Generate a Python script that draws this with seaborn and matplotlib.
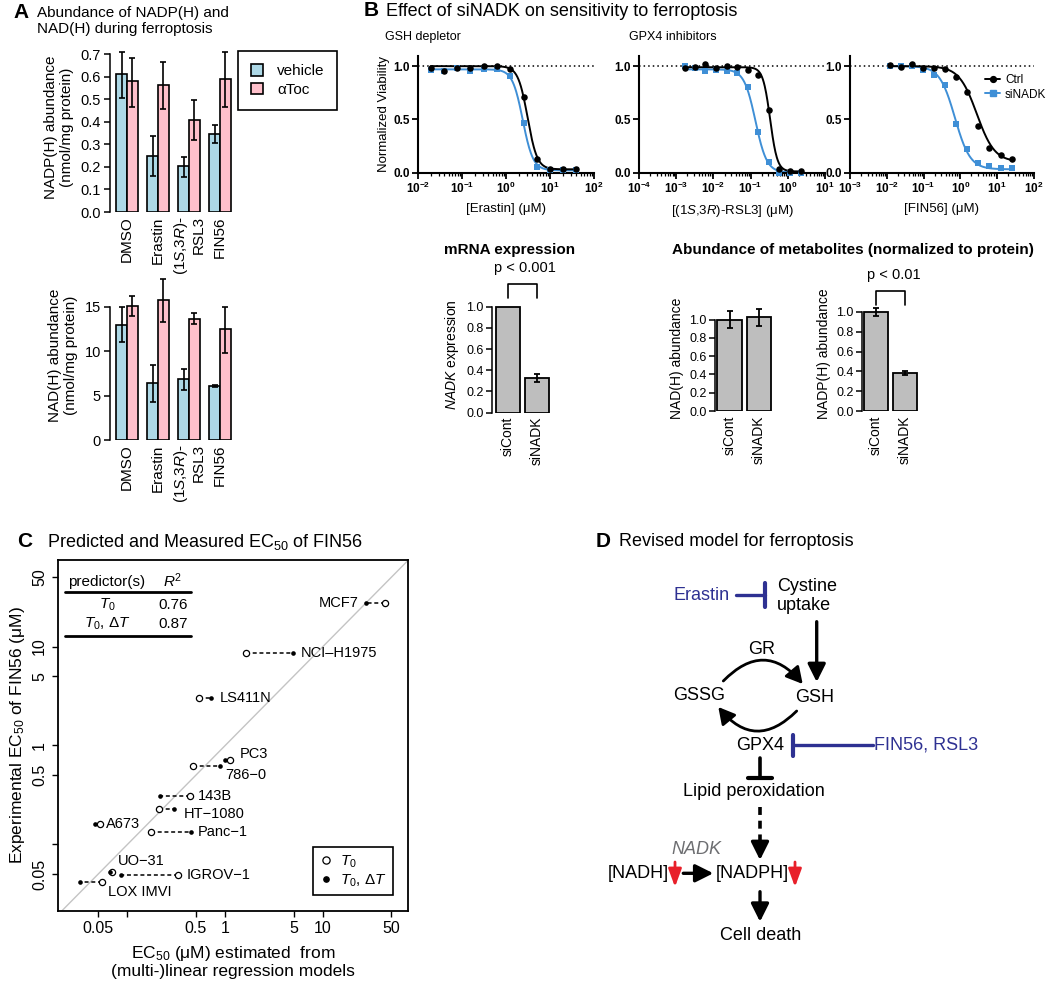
import numpy as np
import pandas as pd
import matplotlib
matplotlib.use("Agg")
import matplotlib.pyplot as plt
import seaborn as sns
from matplotlib.lines import Line2D
from matplotlib.patches import Patch
from matplotlib.ticker import FixedLocator, FuncFormatter, LogLocator, NullFormatter, NullLocator

# ---------------------------------------------------------------- data
# Panel A
treatments = ["DMSO", "Erastin", "RSL3", "FIN56"]
treatment_labels = ["DMSO", "Erastin", "($\\mathit{1S}$,$\\mathit{3R}$)-\nRSL3", "FIN56"]
conditions = ["vehicle", "αToc"]
nadp_vehicle = [0.612, 0.250, 0.204, 0.346]
nadp_vehicle_lo = [0.508, 0.160, 0.155, 0.305]
nadp_vehicle_hi = [0.710, 0.336, 0.245, 0.385]
nadp_atoc = [0.580, 0.564, 0.407, 0.589]
nadp_atoc_lo = [0.465, 0.459, 0.320, 0.465]
nadp_atoc_hi = [0.682, 0.667, 0.496, 0.709]
nad_vehicle = [13.0, 6.4, 6.9, 6.1]
nad_vehicle_lo = [11.1, 4.3, 5.6, 6.0]
nad_vehicle_hi = [15.0, 8.5, 8.0, 6.2]
nad_atoc = [15.1, 15.8, 13.7, 12.5]
nad_atoc_lo = [14.0, 13.3, 13.1, 9.8]
nad_atoc_hi = [16.2, 18.2, 14.35, 15.0]

# Panel B dose-response (normalized viability)
erastin_conc = [0.0195, 0.039, 0.078, 0.156, 0.3125, 0.625, 1.25, 2.5, 5, 10, 20, 40]
erastin_ctrl = [0.98, 0.95, 0.98, 0.98, 1.00, 1.00, 0.97, 0.71, 0.13, 0.03, 0.03, 0.03]
erastin_sinadk = [0.96, 0.95, 0.98, 0.95, 0.97, 0.97, 0.91, 0.47, 0.05, 0.02, 0.02, 0.02]
rsl3_conc = [0.0017, 0.0032, 0.0061, 0.0118, 0.0226, 0.043, 0.083, 0.16, 0.31, 0.59, 1.13, 2.2]
rsl3_ctrl = [0.98, 0.99, 1.02, 0.98, 1.00, 0.99, 0.96, 0.92, 0.59, 0.03, 0.01, 0.01]
rsl3_sinadk = [1.00, 0.98, 0.95, 0.96, 0.95, 0.94, 0.80, 0.38, 0.10, 0.00, 0.00, 0.00]
fin56_conc = [0.012, 0.024, 0.048, 0.096, 0.192, 0.384, 0.768, 1.536, 3.07, 6.14, 12.3, 24.6]
fin56_ctrl = [1.01, 0.99, 1.02, 0.98, 0.98, 0.97, 0.90, 0.76, 0.44, 0.23, 0.16, 0.13]
fin56_sinadk = [1.00, 1.00, 1.00, 0.96, 0.92, 0.82, 0.46, 0.22, 0.09, 0.06, 0.04, 0.04]
# fitted 4-parameter logistic: top, bottom, EC50, Hill slope
erastin_fit_ctrl = (1.00, 0.03, 3.1, 4.0)
erastin_fit_sinadk = (0.97, 0.02, 2.4, 3.7)
rsl3_fit_ctrl = (0.99, 0.01, 0.335, 4.5)
rsl3_fit_sinadk = (0.97, 0.00, 0.135, 2.85)
fin56_fit_ctrl = (1.00, 0.10, 2.8, 1.8)
fin56_fit_sinadk = (1.00, 0.03, 0.71, 2.1)

# Panel B bars
sirna = ["siCont", "siNADK"]
nadk_mrna = [1.0, 0.325]
nadk_mrna_err = [np.nan, 0.04]
nadh_abund = [1.0, 1.025]
nadh_err = [0.09, 0.095]
nadph_abund = [1.0, 0.385]
nadph_err = [0.04, 0.022]

# Panel C
cell_lines = ["MCF7", "NCI\u2013H1975", "LS411N", "PC3", "786\u22120", "143B", "HT\u22121080",
              "A673", "Panc\u22121", "UO\u221231", "IGROV\u22121", "LOX IMVI"]
ec50_exp = [27.3, 8.5, 3.0, 0.714, 0.625, 0.309, 0.227, 0.161, 0.133, 0.0524, 0.0492, 0.042]
pred_t0 = [43.0, 1.64, 0.546, 1.12, 0.473, 0.436, 0.21, 0.052, 0.176, 0.070, 0.33, 0.0555]
pred_t0_dt = [27.5, 4.9, 0.71, 0.99, 0.88, 0.218, 0.30, 0.047, 0.448, 0.066, 0.086, 0.033]
r2_rows = [("$\\mathit{T_0}$", "0.76"), ("$\\mathit{T_0}$, $\\mathit{\\Delta T}$", "0.87")]

# ---------------------------------------------------------------- style
sns.set_theme(style="ticks", context="paper")
plt.rcParams["font.family"] = ["Liberation Sans", "DejaVu Sans"]
plt.rcParams.update({
    "mathtext.fontset": "custom",
    "mathtext.rm": "Liberation Sans",
    "mathtext.it": "Liberation Sans:italic",
    "mathtext.bf": "Liberation Sans:bold",
    "mathtext.sf": "Liberation Sans",
    "axes.edgecolor": "black", "text.color": "black", "axes.labelcolor": "black",
    "xtick.color": "black", "ytick.color": "black",
    "axes.facecolor": "none",
})

vehicle_color = "#ADD8E6"
atoc_color = "#FFC0CB"
blue = "#3f8fd6"
gray_bar = "#BEBEBE"
navy = "#2e3192"
red = "#e8202a"

W, H = 1050, 984
fig = plt.figure(figsize=(W / 100, H / 100), dpi=100)
fig.patch.set_facecolor("white")


def add_ax(l, t, r, b):
    return fig.add_axes([l / W, 1 - b / H, (r - l) / W, (b - t) / H])


# ---------------------------------------------------------------- panel A
def panel_a(ax, veh, veh_lo, veh_hi, toc, toc_lo, toc_hi, ylim, yticks, fmt, ylabel):
    df = pd.DataFrame({"treatment": treatments * 2,
                       "condition": [conditions[0]] * 4 + [conditions[1]] * 4,
                       "value": list(veh) + list(toc)})
    sns.barplot(data=df, x="treatment", y="value", hue="condition", order=treatments,
                hue_order=conditions, palette=[vehicle_color, atoc_color], saturation=1,
                width=0.7, edgecolor="black", linewidth=1.2, errorbar=None, legend=False, ax=ax)
    bars = sorted(ax.patches, key=lambda p: p.get_x())
    lows, highs = [], []
    for i in range(4):
        lows += [veh_lo[i], toc_lo[i]]
        highs += [veh_hi[i], toc_hi[i]]
    xs = np.array([p.get_x() + p.get_width() / 2 for p in bars])
    ys = np.array([p.get_height() for p in bars])
    ax.errorbar(xs, ys, yerr=[ys - np.array(lows), np.array(highs) - ys], fmt="none",
                ecolor="black", elinewidth=1.2, capsize=2.2, capthick=1.2, zorder=5)
    ax.set_xlim(-0.55, 3.45)
    ax.set_ylim(*ylim)
    for s in ["top", "right", "bottom"]:
        ax.spines[s].set_visible(False)
    ax.spines["left"].set_linewidth(1.1)
    ax.spines["left"].set_bounds(yticks[0], yticks[-1])
    ax.set_yticks(yticks)
    ax.set_yticklabels([fmt.format(v) for v in yticks], fontsize=10.5)
    ax.tick_params(axis="y", length=4.5, width=1.1, pad=2)
    ax.set_xticks(range(4))
    ax.set_xticklabels(treatment_labels, rotation=90, fontsize=11)
    for lbl in ax.get_xticklabels():
        lbl.set_multialignment("right")
    ax.tick_params(axis="x", length=0, pad=3)
    ax.set_xlabel("")
    ax.set_ylabel(ylabel, fontsize=11, linespacing=1.15, labelpad=5)


axA1 = add_ax(110, 43, 234, 212)
panel_a(axA1, nadp_vehicle, nadp_vehicle_lo, nadp_vehicle_hi, nadp_atoc, nadp_atoc_lo, nadp_atoc_hi,
        (0, 0.75), [0.0, 0.1, 0.2, 0.3, 0.4, 0.5, 0.6, 0.7], "{:.1f}",
        "NADP(H) abundance\n(nmol/mg protein)")
axA2 = add_ax(110, 271.5, 234, 440)
panel_a(axA2, nad_vehicle, nad_vehicle_lo, nad_vehicle_hi, nad_atoc, nad_atoc_lo, nad_atoc_hi,
        (0, 19), [0, 5, 10, 15], "{:d}", "NAD(H) abundance\n(nmol/mg protein)")

legA = fig.legend(handles=[Patch(facecolor=vehicle_color, edgecolor="black", lw=1.2),
                           Patch(facecolor=atoc_color, edgecolor="black", lw=1.2)],
                  labels=conditions, loc="upper left", bbox_to_anchor=(238 / W, 1 - 51 / H),
                  frameon=True, fancybox=False, edgecolor="black", framealpha=1, fontsize=11,
                  handlelength=0.8, handleheight=0.8, borderpad=0.85, labelspacing=0.3,
                  handletextpad=0.9, borderaxespad=0)
legA.get_frame().set_linewidth(1.2)


# ---------------------------------------------------------------- panel B curves
def logistic(c, top, bottom, ec50, hill):
    c = np.asarray(c, dtype=float)
    return bottom + (top - bottom) / (1 + (c / ec50) ** hill)


def decade_fmt(v, pos):
    return r"$\mathbf{10^{%d}}$" % int(round(np.log10(v)))


def curve_panel(ax, conc, ctrl, sin, fit_ctrl, fit_sin, xlim, xlabel, ylabel=None):
    ax.set_xscale("log")
    grid = np.logspace(np.log10(min(conc)), np.log10(max(conc)), 250)
    sns.lineplot(x=grid, y=logistic(grid, *fit_sin), color=blue, lw=1.4, ax=ax, zorder=2)
    sns.lineplot(x=grid, y=logistic(grid, *fit_ctrl), color="black", lw=1.4, ax=ax, zorder=2)
    sns.scatterplot(x=conc, y=sin, marker="s", color=blue, s=22, linewidth=0, ax=ax,
                    clip_on=False, zorder=3)
    sns.scatterplot(x=conc, y=ctrl, marker="o", color="black", s=22, linewidth=0, ax=ax,
                    clip_on=False, zorder=4)
    ax.axhline(1.0, ls=(0, (1, 2)), color="black", lw=1.1, zorder=1)
    ax.set_xlim(*xlim)
    ax.set_ylim(0, 1.1)
    for s in ["top", "right"]:
        ax.spines[s].set_visible(False)
    for s in ["left", "bottom"]:
        ax.spines[s].set_linewidth(1.5)
    ax.xaxis.set_major_locator(LogLocator(base=10, numticks=20))
    ax.xaxis.set_minor_locator(LogLocator(base=10, subs=np.arange(2, 10), numticks=100))
    ax.xaxis.set_major_formatter(FuncFormatter(decade_fmt))
    ax.xaxis.set_minor_formatter(NullFormatter())
    ax.set_yticks([0, 0.5, 1.0])
    ax.set_yticklabels(["0.0", "0.5", "1.0"], fontweight="bold", fontsize=8.5)
    ax.tick_params(axis="both", which="major", length=4, width=1.3, labelsize=8.5, pad=2)
    ax.tick_params(axis="x", which="minor", length=2.2, width=0.9)
    ax.set_xlabel(xlabel, fontsize=9.5, labelpad=5)
    ax.set_ylabel(ylabel if ylabel else "", fontsize=9.5, labelpad=2)


axB1 = add_ax(418, 55.5, 594, 172.5)
curve_panel(axB1, erastin_conc, erastin_ctrl, erastin_sinadk, erastin_fit_ctrl, erastin_fit_sinadk,
            (1e-2, 1e2), "[Erastin] (μM)", "Normalized Viability")
axB2 = add_ax(639, 55.5, 825, 172.5)
curve_panel(axB2, rsl3_conc, rsl3_ctrl, rsl3_sinadk, rsl3_fit_ctrl, rsl3_fit_sinadk,
            (1e-4, 1e1), "[($\\mathit{1S}$,$\\mathit{3R}$)-RSL3] (μM)")
axB3 = add_ax(850, 55.5, 1034, 172.5)
curve_panel(axB3, fin56_conc, fin56_ctrl, fin56_sinadk, fin56_fit_ctrl, fin56_fit_sinadk,
            (1e-3, 1e2), "[FIN56] (μM)")
fig.legend(handles=[Line2D([], [], color="black", marker="o", ms=4.2, lw=1.4),
                    Line2D([], [], color=blue, marker="s", ms=4.2, lw=1.4)],
           labels=["Ctrl", "siNADK"], loc="upper left", bbox_to_anchor=(985 / W, 1 - 74 / H),
           frameon=False, fontsize=8.5, handlelength=1.3, handletextpad=0.4,
           labelspacing=0.22, borderpad=0, borderaxespad=0)


# ---------------------------------------------------------------- panel B bars
def bar_panel_b(ax, values, errs, ylim, ylabel, xlim):
    sns.barplot(x=sirna, y=values, color=gray_bar, saturation=1, width=0.83, edgecolor="black",
                linewidth=1.3, errorbar=None, ax=ax)
    bars = sorted(ax.patches, key=lambda p: p.get_x())
    for p, e in zip(bars, errs):
        if np.isfinite(e):
            ax.errorbar(p.get_x() + p.get_width() / 2, p.get_height(), yerr=e, fmt="none",
                        ecolor="black", elinewidth=1.3, capsize=2.5, capthick=1.3, zorder=5)
    ax.set_xlim(*xlim)
    ax.set_ylim(*ylim)
    for s in ["top", "right", "bottom"]:
        ax.spines[s].set_visible(False)
    ax.spines["left"].set_linewidth(1.1)
    ax.spines["left"].set_bounds(0, 1.0)
    ticks = [0.0, 0.2, 0.4, 0.6, 0.8, 1.0]
    ax.set_yticks(ticks)
    ax.set_yticklabels([f"{t:.1f}" for t in ticks], fontsize=9)
    ax.tick_params(axis="y", length=4, width=1.1, pad=2)
    ax.set_xticks([0, 1])
    ax.set_xticklabels(sirna, rotation=90, fontsize=10)
    ax.tick_params(axis="x", length=0, pad=3)
    ax.set_ylabel(ylabel, fontsize=10, labelpad=4)


axB4 = add_ax(492, 296, 553, 412.7)
bar_panel_b(axB4, nadk_mrna, nadk_mrna_err, (0, 1.1), "$\\mathit{NADK}$ expression", (-0.55, 1.55))
axB5 = add_ax(715, 306, 776, 411)
bar_panel_b(axB5, nadh_abund, nadh_err, (0, 1.15), "NAD(H) abundance", (-0.5, 1.6))
axB6 = add_ax(862, 297, 923, 411)
bar_panel_b(axB6, nadph_abund, nadph_err, (0, 1.15), "NADP(H) abundance", (-0.48, 1.62))

for ax, y0, y1, ytxt, label in [(axB4, 1.08, 1.21, 1.36, "p < 0.001"),
                                (axB6, 1.07, 1.21, 1.37, "p < 0.01")]:
    ax.plot([0, 0, 1, 1], [y0, y1, y1, y0], color="black", lw=1.2, clip_on=False)
    ax.text(0.6, ytxt, label, ha="center", va="center", fontsize=10.5, clip_on=False)

# ---------------------------------------------------------------- panel C
axC = add_ax(57.5, 560, 408.4, 910.7)
axC.set_xscale("log")
axC.set_yscale("log")
axC.plot([1e-3, 1e3], [1e-3, 1e3], color="#c4c4c4", lw=1.0, zorder=0)
for a, b, y in zip(pred_t0, pred_t0_dt, ec50_exp):
    axC.plot([a, b], [y, y], ls=(0, (2.6, 1.8)), color="black", lw=1.1, zorder=1)
sns.scatterplot(x=pred_t0, y=ec50_exp, marker="o", color="white", edgecolor="black",
                linewidth=0.9, s=20, zorder=3, ax=axC)
sns.scatterplot(x=pred_t0_dt, y=ec50_exp, marker="o", color="black", linewidth=0, s=11,
                zorder=4, ax=axC)
axC.set_xlim(10 ** -1.715, 10 ** 1.874)
axC.set_ylim(10 ** -1.669, 10 ** 1.874)

# label placement: (dx px, dy px, ha) relative to the outer point of each pair
label_place = {
    "MCF7": (-7, 0, "right"), "NCI\u2013H1975": (8, 0, "left"), "LS411N": (9, 0, "left"),
    "PC3": (10, -6, "left"), "786\u22120": (6, 9, "left"), "143B": (8, 0, "left"),
    "HT\u22121080": (10, 5, "left"), "A673": (6, 0, "left"), "Panc\u22121": (7, 0, "left"),
    "UO\u221231": (6, -11, "left"), "IGROV\u22121": (9, 0, "left"), "LOX IMVI": (6, 10, "left"),
}
for name, y, a, b in zip(cell_lines, ec50_exp, pred_t0, pred_t0_dt):
    dx, dy, ha = label_place[name]
    xref = min(a, b) if ha == "right" else max(a, b)
    axC.annotate(name, xy=(xref, y), xytext=(dx * 0.72, -dy * 0.72), textcoords="offset points",
                 ha=ha, va="center", fontsize=10.5)

cticks = [0.05, 0.1, 0.5, 1, 5, 10, 50]
clabels = ["0.05", "", "0.5", "1", "5", "10", "50"]
axC.xaxis.set_major_locator(FixedLocator(cticks))
axC.yaxis.set_major_locator(FixedLocator(cticks))
axC.xaxis.set_minor_locator(NullLocator())
axC.yaxis.set_minor_locator(NullLocator())
axC.set_xticklabels(clabels, fontsize=11.5)
axC.set_yticklabels(clabels, fontsize=11.5, rotation=90, va="center")
axC.tick_params(axis="both", length=4.5, width=1.0, pad=3)
for s in axC.spines.values():
    s.set_linewidth(1.3)
    s.set_visible(True)
axC.set_xlabel("EC$_{50}$ (μM) estimated  from\n(multi-)linear regression models",
               fontsize=12.5, linespacing=1.05, labelpad=6)
axC.set_ylabel("Experimental EC$_{50}$ of FIN56 (μM)", fontsize=12.5, labelpad=4)

legC = axC.legend(handles=[Line2D([], [], ls="", marker="o", ms=5.2, mfc="white", mec="black", mew=0.9),
                           Line2D([], [], ls="", marker="o", ms=3.8, mfc="black", mec="black")],
                  labels=["$\\mathit{T_0}$", "$\\mathit{T_0}$, $\\mathit{\\Delta T}$"], loc="lower right",
                  borderaxespad=1.0, fontsize=11, frameon=True, fancybox=False, edgecolor="black",
                  framealpha=1, handlelength=0.8, handletextpad=0.5, borderpad=0.45,
                  labelspacing=0.15)
legC.get_frame().set_linewidth(1.2)

# ---------------------------------------------------------------- overlay (titles, table, panel D)
ov = fig.add_axes([0, 0, 1, 1], zorder=10)
ov.set_xlim(0, W)
ov.set_ylim(H, 0)
ov.axis("off")
ov.patch.set_alpha(0)


def T(x, y, s, size, ha="left", va="center", **kw):
    ov.text(x, y, s, fontsize=size, ha=ha, va=va, **kw)


# panel letters + titles
T(13, 13, "A", 15, weight="bold")
T(37, 21, "Abundance of NADP(H) and\nNAD(H) during ferroptosis", 11, linespacing=1.15)
T(364, 11, "B", 15, weight="bold")
T(386, 11.5, "Effect of siNADK on sensitivity to ferroptosis", 13)
T(385, 37, "GSH depletor", 9)
T(629, 37, "GPX4 inhibitors", 9)
T(510, 250, "mRNA expression", 11, ha="center", weight="bold")
T(853, 250, "Abundance of metabolites (normalized to protein)", 11, ha="center", weight="bold")
T(17, 541.5, "C", 15, weight="bold")
T(47, 541.5, "Predicted and Measured EC$_{50}$ of FIN56", 13)
T(596, 541.5, "D", 15, weight="bold")
T(619, 541.5, "Revised model for ferroptosis", 13)

# table inside panel C
T(67.6, 581.7, "predictor(s)", 11)
T(172.4, 580.5, "$\\mathit{R}^2$", 11, ha="center")
ov.plot([64.9, 191], [592.3, 592.3], color="black", lw=2)
for (pred, r2), yy in zip(r2_rows, [605, 624.3]):
    T(107.5, yy, pred, 11, ha="center")
    T(173, yy, r2, 11, ha="center")
ov.plot([64.9, 191], [635.7, 635.7], color="black", lw=2)

# panel D diagram


def arrow(x0, y0, x1, y1, color="black", rad=None, lw=2.4, hl=0.6, hw=0.3, ms=18):
    kw = dict(arrowstyle=f"-|>,head_length={hl},head_width={hw}", lw=lw, color=color,
              shrinkA=0, shrinkB=0, mutation_scale=ms)
    if rad is not None:
        kw["connectionstyle"] = f"arc3,rad={rad}"
    ov.annotate("", xy=(x1, y1), xytext=(x0, y0), arrowprops=kw)


D_SIZE = 13
T(730, 595, "Erastin", D_SIZE, ha="right", color=navy)
ov.plot([736, 765], [595, 595], color=navy, lw=2.4)
ov.plot([765, 765], [583, 607], color=navy, lw=3)
T(777, 596, "Cystine\nuptake", D_SIZE, linespacing=1.15)
arrow(816.7, 621.7, 816.7, 682)
T(761.7, 650, "GR", D_SIZE, ha="center")
T(699.3, 696, "GSSG", D_SIZE, ha="center")
T(815, 698, "GSH", D_SIZE, ha="center")
arrow(723.3, 681, 802.7, 684, rad=-0.55, lw=2.0, hl=0.55, hw=0.3)
arrow(796.7, 711, 718.3, 707, rad=-0.55, lw=2.0, hl=0.55, hw=0.3)
T(760, 745, "GPX4", D_SIZE, ha="center")
ov.plot([793.3, 873.3], [745, 745], color=navy, lw=2.4)
ov.plot([793.3, 793.3], [735, 756], color=navy, lw=3)
T(874, 745, "FIN56, RSL3", D_SIZE, color=navy)
ov.plot([760, 760], [758.3, 778.3], color="black", lw=2.6)
ov.plot([748.3, 771.7], [778.3, 778.3], color="black", lw=3)
T(754, 791, "Lipid peroxidation", D_SIZE, ha="center")
ov.plot([760, 760], [806.7, 849], color="black", lw=2.6, ls=(0, (2.2, 1.6)))
arrow(760, 846, 760, 860)
T(696.7, 850, "NADK", D_SIZE, ha="center", style="italic", color="#6d6e71")
T(638, 873.3, "[NADH]", D_SIZE, ha="center")
arrow(675, 862, 675, 887, color=red, lw=2.0, hl=0.6, hw=0.22)
arrow(683.3, 873.3, 713.3, 873.3)
T(752.5, 873.3, "[NADPH]", D_SIZE, ha="center")
arrow(795, 862, 795, 887, color=red, lw=2.0, hl=0.6, hw=0.22)
arrow(760, 891.7, 760, 921.7)
T(760.7, 935, "Cell death", D_SIZE, ha="center")

fig.savefig("out.png", dpi=100, facecolor="white")
